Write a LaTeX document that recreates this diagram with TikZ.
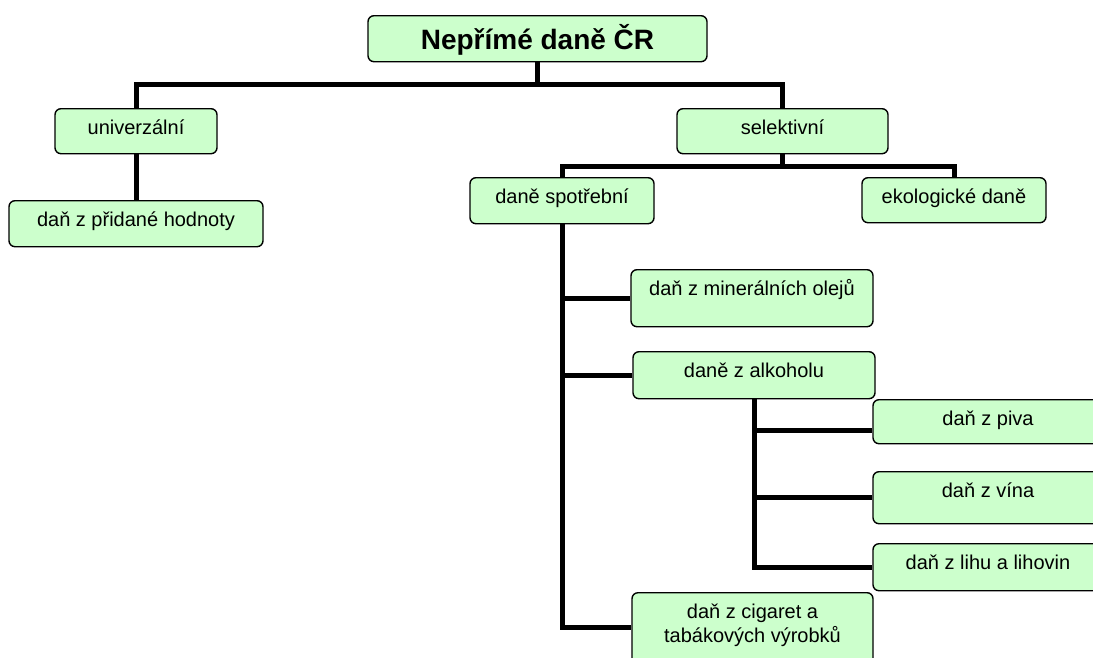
\documentclass[tikz,border=0pt]{standalone}
\usepackage{fontspec}
\setmainfont{Liberation Sans}
\definecolor{boxgreen}{HTML}{CCFFCC}
\begin{document}
\begin{tikzpicture}[x=1pt,y=-1pt,
  box/.style={draw=black, line width=1.4pt, fill=boxgreen, rounded corners=6pt,
    anchor=north, inner xsep=0pt, inner ysep=0pt, text height=26pt,
    font=\fontsize{20}{24}\selectfont},
  dims/.style 2 args={minimum width=#1, text depth=#2},
  conn/.style={line width=5pt, line join=miter, line cap=butt}]
\useasboundingbox (0,0) rectangle (1093,657);
\clip (0,0) rectangle (1093,657);

% boxes: top-centre position, width, height below the baseline
\node[box, dims={339pt}{12pt}, text height=34pt, font=\fontsize{28}{34}\selectfont\bfseries]
  (title) at (537.5,15) {Nepřímé daně ČR};
\node[box, dims={162pt}{19pt}] (univ) at (136,108) {univerzální};
\node[box, dims={254pt}{20pt}] (dph)  at (136,200) {daň z přidané hodnoty};
\node[box, dims={211pt}{19pt}] (sel)  at (782.5,108) {selektivní};
\node[box, dims={184pt}{20pt}] (spot) at (562,177) {daně spotřební};
\node[box, dims={184pt}{19pt}] (eko)  at (954,177) {ekologické daně};
\node[box, dims={242pt}{31pt}] (min)  at (752,269) {daň z minerálních olejů};
\node[box, dims={242pt}{21pt}] (alk)  at (754,351) {daně z alkoholu};
\node[box, dims={230pt}{18pt}] (piva) at (988,399) {daň z piva};
\node[box, dims={230pt}{26pt}] (vina) at (988,471) {daň z vína};
\node[box, dims={230pt}{21pt}] (lihu) at (988,543) {daň z lihu a lihovin};
\node[box, dims={241pt}{69pt}] (cig)  at (752.5,592)
  {\begin{tabular}[t]{@{}c@{}}daň z cigaret a\\tabákových výrobků\end{tabular}};

% bus levels and entry points
\coordinate (busTop) at (0,84);
\coordinate (busSel) at (0,166);
\coordinate (pivaIn) at ([yshift=-9pt]piva.west);
\coordinate (cigIn)  at ([yshift=-35pt]cig.north west);

% connectors
\draw[conn] (title.south) -- (title.south |- busTop);
\draw[conn] (univ.north) -- (univ.north |- busTop) -- (sel.north |- busTop) -- (sel.north);
\draw[conn] (univ.south) -- (dph.north);
\draw[conn] (sel.south) -- (sel.south |- busSel);
\draw[conn] (spot.north) -- (spot.north |- busSel) -- (eko.north |- busSel) -- (eko.north);
\draw[conn] (spot.south) |- (cigIn);
\draw[conn] (spot.south |- min.west) -- (min.west);
\draw[conn] (spot.south |- alk.west) -- (alk.west);
\draw[conn] (alk.south) |- (lihu.west);
\draw[conn] (alk.south |- vina.west) -- (vina.west);
\draw[conn] (pivaIn -| alk.south) -- (pivaIn);
\end{tikzpicture}
\end{document}
